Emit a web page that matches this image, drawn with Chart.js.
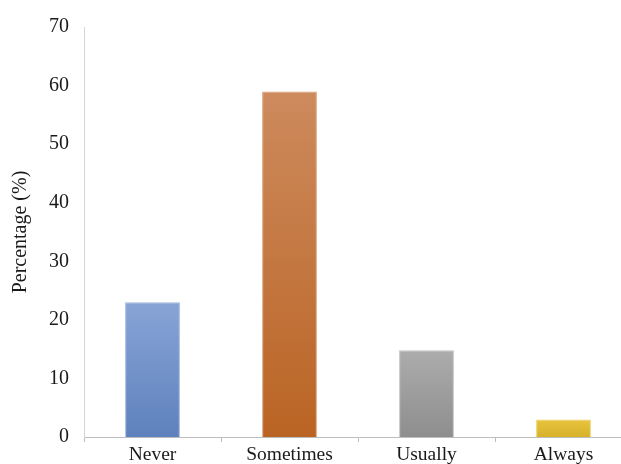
<!DOCTYPE html>
<html lang="en">
<head>
    <meta charset="UTF-8">
    <title>Percentage by frequency</title>
    <script src="https://cdn.jsdelivr.net/npm/chart.js"></script>
    <style>
        html, body { margin: 0; padding: 0; background: #fff; overflow: hidden; }
        #wrap { width: 640px; height: 464px; }
    </style>
</head>
<body>
<div id="wrap"><canvas id="barChart" width="640" height="464"></canvas></div>

<script>
    // data
    const categories = ['Never', 'Sometimes', 'Usually', 'Always'];
    const percentages = [23, 59, 14.8, 3];
    const yTicks = [0, 10, 20, 30, 40, 50, 60, 70];

    // top / bottom colour of each bar's gradient
    const topColors = ['#88a4d6', '#cd8a5d', '#adacad', '#e7c43c'];
    const bottomColors = ['#5e81bd', '#ba6424', '#8e8e8f', '#d8b12b'];
    const edgeColors = ['#9db4de', '#d9a27c', '#c2c1c2', '#eed068'];

    function barFill(context) {
        const chart = context.chart;
        const area = chart.chartArea;
        if (!area) return bottomColors[context.dataIndex];
        const y = chart.scales.y;
        const top = y.getPixelForValue(percentages[context.dataIndex]);
        const bottom = y.getPixelForValue(0);
        const g = chart.ctx.createLinearGradient(0, top, 0, bottom);
        g.addColorStop(0, topColors[context.dataIndex]);
        g.addColorStop(1, bottomColors[context.dataIndex]);
        return g;
    }

    const ctx = document.getElementById('barChart').getContext('2d');
    new Chart(ctx, {
        type: 'bar',
        data: {
            labels: categories,
            datasets: [{
                data: percentages,
                backgroundColor: barFill,
                borderColor: edgeColors,
                borderWidth: 1,
                borderSkipped: 'bottom',
                barPercentage: 0.4,
                categoryPercentage: 1
            }]
        },
        options: {
            responsive: false,
            animation: false,
            layout: { padding: { top: 24, left: 0, right: 8, bottom: 0 } },
            plugins: {
                legend: { display: false },
                tooltip: { enabled: false }
            },
            scales: {
                x: {
                    grid: {
                        display: true,
                        drawOnChartArea: false,
                        drawTicks: true,
                        tickLength: 5,
                        color: '#bdbdbd'
                    },
                    border: { display: true, color: '#bdbdbd', width: 1 },
                    ticks: {
                        color: '#1a1a1a',
                        padding: 1,
                        font: { family: '"Liberation Serif", "Times New Roman", serif', size: 19.5 }
                    },
                    afterFit: function (scale) { scale.height = 27; }
                },
                y: {
                    min: 0,
                    max: 70,
                    afterBuildTicks: function (scale) {
                        scale.ticks = yTicks.map(v => ({ value: v }));
                    },
                    grid: { display: false, drawTicks: false },
                    border: { display: true, color: '#d6d6d6', width: 1 },
                    ticks: {
                        color: '#1a1a1a',
                        padding: 15,
                        font: { family: '"Liberation Serif", "Times New Roman", serif', size: 20 }
                    },
                    title: {
                        display: true,
                        text: 'Percentage (%)',
                        color: '#1a1a1a',
                        padding: { top: 9, bottom: 0 },
                        font: { family: '"Liberation Serif", "Times New Roman", serif', size: 20 }
                    },
                    afterFit: function (scale) { scale.width = 84; }
                }
            }
        }
    });
</script>
</body>
</html>
